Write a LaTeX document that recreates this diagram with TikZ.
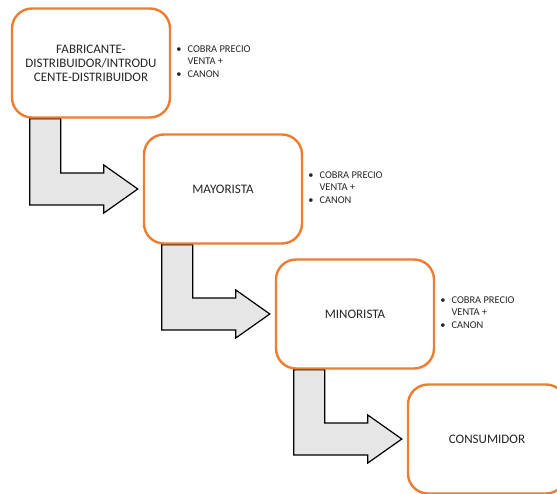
\documentclass[tikz,border=0pt]{standalone}
\usepackage{fontspec}
\setmainfont{Carlito}
\usetikzlibrary{positioning,calc,backgrounds}
\definecolor{boxline}{HTML}{ED7D31}
\definecolor{flowfill}{HTML}{E6E6E6}
\definecolor{ink}{HTML}{262626}
\tikzset{
  stage/.style={draw=boxline,line width=2.4pt,rounded corners=20pt,fill=white,
    minimum width=158pt,minimum height=109pt,align=center,text=ink,
    font=\fontsize{13}{14}\selectfont},
  note/.style={anchor=west,text=ink,inner sep=0pt,font=\fontsize{10.4}{11.3}\selectfont},
  flow/.style={draw=black,fill=flowfill,line width=1.2pt,line join=miter}
}
% bent block arrow from the bottom of #1 to the left side of #2
\newcommand{\bentflow}[2]{%
  \draw[flow] let \p1=(#1.south west), \p2=(#2.west) in
    (\x1+19pt,\y1) -- (\x1+19pt,\y2-16pt) -- (\x2-39pt,\y2-16pt)
    -- (\x2-39pt,\y2-24pt) -- (\x2-5pt,\y2) -- (\x2-39pt,\y2+24pt)
    -- (\x2-39pt,\y2+16pt) -- (\x1+50pt,\y2+16pt) -- (\x1+50pt,\y1) -- cycle;}
\newcommand{\cobra}{%
  \begin{tabular}{@{}l@{\hspace{6pt}}l@{}}
  \textbullet & COBRA PRECIO\\
              & VENTA +\\[2pt]
  \textbullet & CANON
  \end{tabular}}
\begin{document}
\begin{tikzpicture}[x=1pt,y=1pt]
  \useasboundingbox (0,0) rectangle (557,-493);
  \clip (0,0) rectangle (557,-493);
  \node[stage] (fab) at (91,-63) {FABRICANTE-\\DISTRIBUIDOR/INTRODU\\CENTE-DISTRIBUIDOR};
  \node[stage] (mayor) at (223,-189) {MAYORISTA};
  \node[stage] (minor) at (355,-314) {MINORISTA};
  \node[stage] (cons) at (487,-439) {CONSUMIDOR};
  \node[note,right=5pt of fab] (fabnote) {\cobra};
  \node[note,right=5pt of mayor] (mayornote) {\cobra};
  \node[note,right=5pt of minor] (minornote) {\cobra};
  \begin{scope}[on background layer]
    \bentflow{fab}{mayor}
    \bentflow{mayor}{minor}
    \bentflow{minor}{cons}
  \end{scope}
\end{tikzpicture}
\end{document}
